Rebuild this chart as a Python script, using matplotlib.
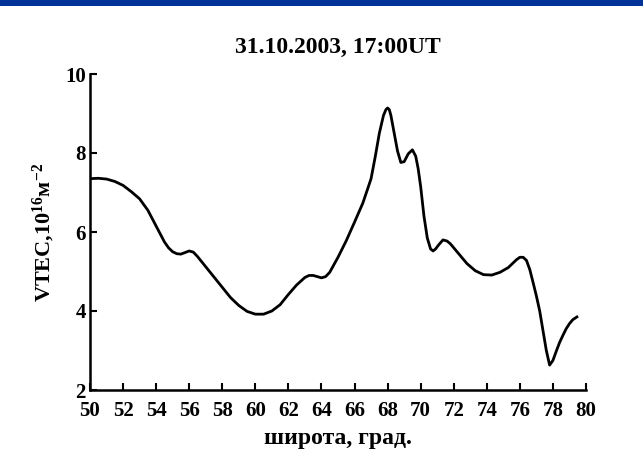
import matplotlib
matplotlib.use("Agg")
import matplotlib.pyplot as plt
from matplotlib.patches import Rectangle

lat = [50.0, 50.5, 51.0, 51.5, 52.0, 52.5, 53.0, 53.5, 54.0, 54.5, 54.75, 55.0,
       55.25, 55.5, 55.75, 56.0, 56.25, 56.5, 57.0, 57.5, 58.0, 58.5, 59.0, 59.5,
       60.0, 60.5, 61.0, 61.5, 62.0, 62.5, 63.0, 63.25, 63.5, 63.75, 64.0, 64.25,
       64.5, 65.0, 65.5, 66.0, 66.5, 66.8, 67.0, 67.25, 67.5, 67.75, 67.9, 68.0,
       68.1, 68.2, 68.4, 68.6, 68.8, 69.0, 69.25, 69.5, 69.7, 69.85, 70.0, 70.2,
       70.4, 70.6, 70.75, 70.9, 71.1, 71.35, 71.6, 71.8, 72.3, 72.8, 73.3, 73.8,
       74.3, 74.8, 75.3, 75.8, 76.0, 76.2, 76.4, 76.6, 76.8, 77.0, 77.2, 77.4,
       77.6, 77.8, 78.0, 78.2, 78.4, 78.6, 78.8, 79.0, 79.2, 79.45]
vtec = [7.35, 7.36, 7.34, 7.28, 7.18, 7.02, 6.84, 6.55, 6.15, 5.75, 5.6, 5.5,
        5.45, 5.44, 5.48, 5.52, 5.49, 5.38, 5.12, 4.86, 4.6, 4.34, 4.14, 3.99,
        3.92, 3.92, 4.0, 4.16, 4.42, 4.66, 4.85, 4.9, 4.9, 4.87, 4.84, 4.87,
        4.98, 5.36, 5.78, 6.25, 6.73, 7.1, 7.35, 7.9, 8.5, 8.95, 9.1, 9.14,
        9.1, 8.95, 8.5, 8.05, 7.76, 7.78, 7.98, 8.08, 7.92, 7.6, 7.15, 6.4,
        5.85, 5.57, 5.52, 5.57, 5.68, 5.8, 5.77, 5.7, 5.45, 5.2, 5.02, 4.92,
        4.91, 4.98, 5.1, 5.3, 5.36, 5.36, 5.28, 5.05, 4.72, 4.38, 4.0, 3.5,
        3.0, 2.63, 2.75, 2.98, 3.2, 3.38, 3.55, 3.68, 3.78, 3.85]
xticks = list(range(50, 81, 2))
yticks = [2, 4, 6, 8, 10]
title = "31.10.2003, 17:00UT"
xlabel = "широта, град."
ylabel = r"VTEC,10$^{\mathbf{16}}$м$^{\mathbf{-2}}$"

plt.rcParams['font.family'] = ['Liberation Serif', 'DejaVu Serif']
plt.rcParams['font.weight'] = 'bold'
plt.rcParams['mathtext.fontset'] = 'custom'
plt.rcParams['mathtext.rm'] = 'Liberation Serif:bold'
plt.rcParams['mathtext.bf'] = 'Liberation Serif:bold'
plt.rcParams['mathtext.it'] = 'Liberation Serif:bold'

fig = plt.figure(figsize=(6.43, 4.62), dpi=100)
fig.patches.append(Rectangle((0, 1 - 6/462), 1, 6/462, transform=fig.transFigure,
                             facecolor='#003399', edgecolor='none', zorder=10))
ax = fig.add_axes([90/643, 72/462, 496/643, 316/462])
ax.plot(lat, vtec, color='black', lw=2.0, solid_joinstyle='round')
ax.set_xlim(50, 80)
ax.set_ylim(2, 10)
ax.set_xticks(xticks)
ax.set_yticks(yticks)
ax.spines['top'].set_visible(False)
ax.spines['right'].set_visible(False)
for s in ('left', 'bottom'):
    ax.spines[s].set_linewidth(1.8)
ax.tick_params(direction='in', length=5, width=1.5, labelsize=15)
ax.tick_params(axis='x', pad=8)
ax.tick_params(axis='y', pad=3)
for lbl in ax.get_xticklabels() + ax.get_yticklabels():
    lbl.set_fontweight('bold')
ax.set_title(title, fontsize=17, fontweight='bold', pad=15)
ax.set_xlabel(xlabel, fontsize=17, fontweight='bold', labelpad=5)
ax.set_ylabel(ylabel, fontsize=16, fontweight='bold', labelpad=6)
fig.savefig("out.png", dpi=100)
